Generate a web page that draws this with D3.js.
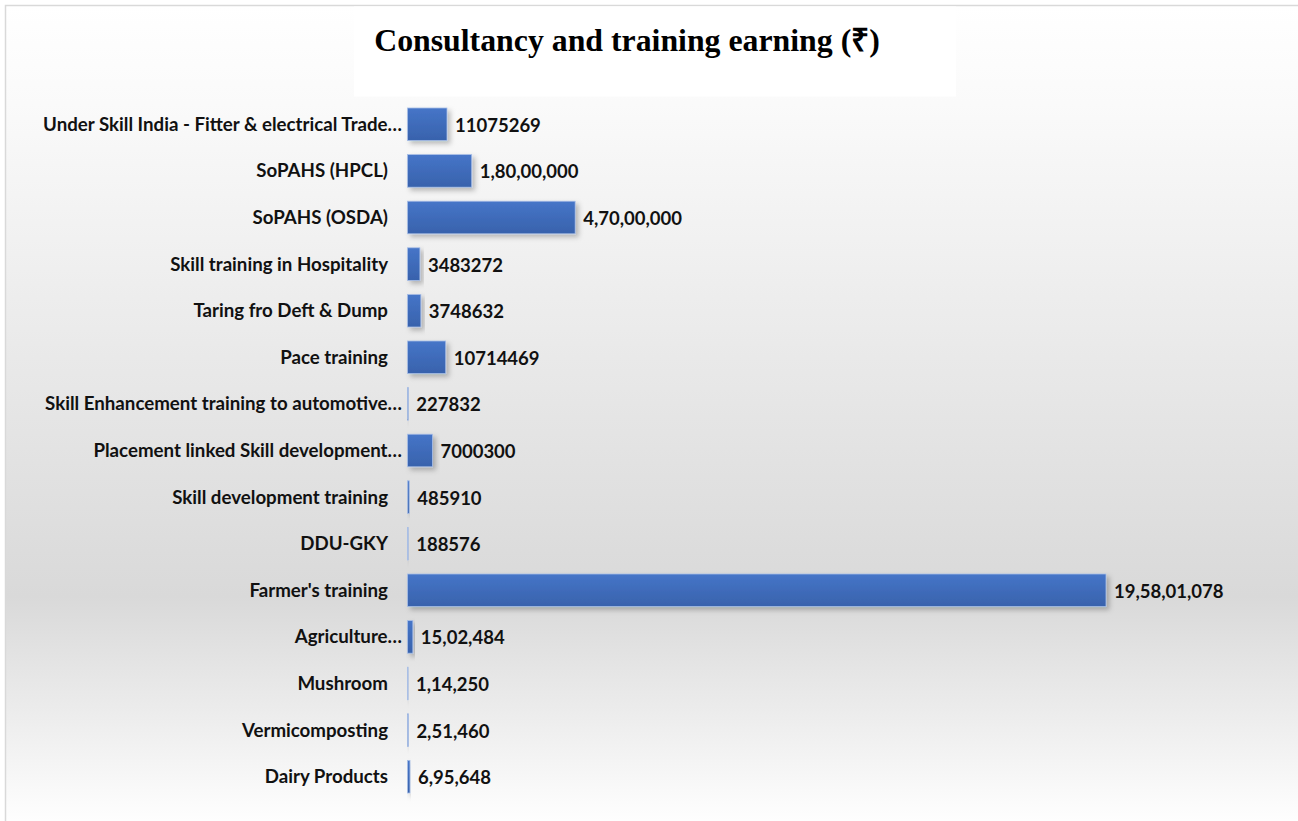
<!DOCTYPE html>
<html lang="en">
<head>
<meta charset="UTF-8">
<title>Consultancy and training earning</title>
<script src="https://cdnjs.cloudflare.com/ajax/libs/d3/7.8.5/d3.min.js"></script>
<style>
    html, body { margin: 0; padding: 0; background: #ffffff; }
    svg { display: block; }
    .cat-label { font-family: Lato, "Open Sans", sans-serif; font-weight: 700; font-size: 18.7px; fill: #111; }
    .val-label { font-family: Lato, "Open Sans", sans-serif; font-weight: 700; font-size: 18.5px; fill: #111; }
    .title { font-family: "Liberation Serif", "Times New Roman", serif; font-weight: 700; font-size: 31.8px; fill: #000; }
</style>
</head>
<body>
<div id="chart"></div>
<script>
// data, top to bottom as in the picture
const categories = [
    "Under Skill India - Fitter & electrical Trade…",
    "SoPAHS (HPCL)",
    "SoPAHS (OSDA)",
    "Skill training in Hospitality",
    "Taring fro Deft & Dump",
    "Pace training",
    "Skill Enhancement training to automotive…",
    "Placement linked Skill development…",
    "Skill development training",
    "DDU-GKY",
    "Farmer's training",
    "Agriculture…",
    "Mushroom",
    "Vermicomposting",
    "Dairy Products"
];
const values = [
    11075269, 18000000, 47000000, 3483272, 3748632, 10714469, 227832,
    7000300, 485910, 188576, 195801078, 1502484, 114250, 251460, 695648
];
const valueLabels = [
    "11075269", "1,80,00,000", "4,70,00,000", "3483272", "3748632", "10714469", "227832",
    "7000300", "485910", "188576", "19,58,01,078", "15,02,484", "1,14,250", "2,51,460", "6,95,648"
];
const title = "Consultancy and training earning (₹)";

const width = 1298, height = 821;
const svg = d3.select("#chart").append("svg")
    .attr("width", width)
    .attr("height", height);

const defs = svg.append("defs");

const bg = defs.append("linearGradient")
    .attr("id", "bg").attr("x1", 0).attr("y1", 0).attr("x2", 0).attr("y2", 1);
bg.append("stop").attr("offset", "0%").attr("stop-color", "#ffffff");
bg.append("stop").attr("offset", "12%").attr("stop-color", "#fafafa");
bg.append("stop").attr("offset", "72%").attr("stop-color", "#d9d9d9");
bg.append("stop").attr("offset", "100%").attr("stop-color", "#ffffff");

const barGrad = defs.append("linearGradient")
    .attr("id", "barGrad").attr("x1", 0).attr("y1", 0).attr("x2", 0).attr("y2", 1);
barGrad.append("stop").attr("offset", "0%").attr("stop-color", "#4675c8");
barGrad.append("stop").attr("offset", "100%").attr("stop-color", "#3862ac");

const shadow = defs.append("filter").attr("id", "shadow")
    .attr("x", "-20%").attr("y", "-20%").attr("width", "150%").attr("height", "160%");
shadow.append("feDropShadow")
    .attr("dx", 3).attr("dy", 3).attr("stdDeviation", 2.5)
    .attr("flood-color", "#000").attr("flood-opacity", 0.25);

// chart area
svg.append("rect")
    .attr("x", 5.5).attr("y", 5.5)
    .attr("width", width).attr("height", height)
    .attr("fill", "url(#bg)");
svg.append("path")
    .attr("d", `M5.5,${height}V5.5H${width}`)
    .attr("fill", "none")
    .attr("stroke", "#d9d9d9")
    .attr("stroke-width", 1.5);

// title box
svg.append("rect")
    .attr("x", 354).attr("y", 6.5)
    .attr("width", 602).attr("height", 90)
    .attr("fill", "#ffffff");
svg.append("text")
    .attr("class", "title")
    .attr("x", 627)
    .attr("y", 51)
    .attr("text-anchor", "middle")
    .text(title);

// scales
const y = d3.scaleBand()
    .domain(categories)
    .range([101, 800])
    .paddingInner(0.3)
    .paddingOuter(0.15);

const x = d3.scaleLinear()
    .domain([0, d3.max(values)])
    .range([407.5, 1106]);

const rows = categories.map((c, i) => ({cat: c, value: values[i], label: valueLabels[i]}));

// bars
svg.append("g").selectAll("rect")
    .data(rows)
    .enter()
    .append("rect")
    .attr("x", x(0))
    .attr("y", d => y(d.cat))
    .attr("width", d => Math.max(0.6, x(d.value) - x(0)))
    .attr("height", y.bandwidth())
    .attr("fill", "url(#barGrad)")
    .attr("stroke", "#a9bfe6")
    .attr("stroke-width", 0.8)
    .attr("filter", "url(#shadow)");

// category labels
svg.append("g").selectAll("text")
    .data(rows)
    .enter()
    .append("text")
    .attr("class", "cat-label")
    .attr("x", d => d.cat.endsWith("…") ? 402 : 388)
    .attr("y", d => y(d.cat) + y.bandwidth() / 2 + 6.5)
    .attr("text-anchor", "end")
    .text(d => d.cat);

// value labels
svg.append("g").selectAll("text")
    .data(rows)
    .enter()
    .append("text")
    .attr("class", "val-label")
    .attr("x", d => x(d.value) + 8)
    .attr("y", d => y(d.cat) + y.bandwidth() / 2 + 7.5)
    .text(d => d.label);
</script>
</body>
</html>
